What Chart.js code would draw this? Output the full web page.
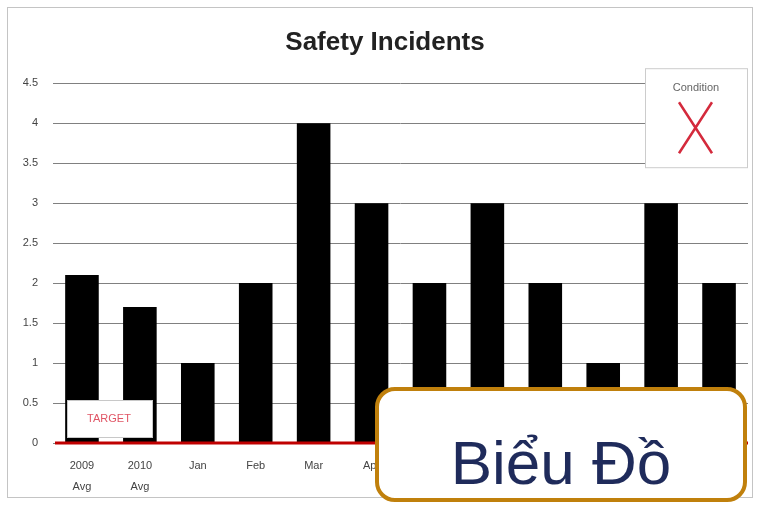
<!DOCTYPE html>
<html>
<head>
<meta charset="utf-8">
<script src="https://cdn.jsdelivr.net/npm/chart.js@4"></script>
<style>
  html, body { margin: 0; padding: 0; background: #fff; }
  #wrap { position: relative; width: 759px; height: 507px; }
  #frame {
    position: absolute; left: 7px; top: 7px; width: 746px; height: 491px;
    border: 1px solid #c4c4c4; box-sizing: border-box; pointer-events: none;
  }
  #badge {
    position: absolute; left: 375px; top: 387px; width: 372px; height: 115px;
    box-sizing: border-box; border: 4px solid #c0800c; border-radius: 20px;
    background: #fff; display: flex; align-items: flex-end; justify-content: center;
    padding-bottom: 4px;
    font-family: "Liberation Sans", Arial, sans-serif; font-size: 62px; line-height: 1;
    color: #1f2b5b;
  }
</style>
</head>
<body>
<div id="wrap">
  <canvas id="chart" width="759" height="507"></canvas>
  <div id="frame"></div>
  <div id="badge">Biểu Đồ</div>
</div>
<script>
const categories = [
  ['2009', 'Avg'], ['2010', 'Avg'], 'Jan', 'Feb', 'Mar', 'Apr',
  'May', 'Jun', 'Jul', 'Aug', 'Sep', 'Oct'
];
const incidents = [2.1, 1.7, 1, 2, 4, 3, 2, 3, 2, 1, 3, 2];
const yTicks = [0, 0.5, 1, 1.5, 2, 2.5, 3, 3.5, 4, 4.5];
const targetValue = 0;

const tickFont = { family: 'Liberation Sans, Arial, sans-serif', size: 11 };

// target line, its label and the condition box
const overlays = {
  id: 'overlays',
  afterDatasetsDraw(chart) {
    const { ctx, chartArea } = chart;
    const y = chart.scales.y.getPixelForValue(targetValue);

    ctx.save();
    ctx.strokeStyle = '#c00000';
    ctx.lineWidth = 3;
    ctx.beginPath();
    ctx.moveTo(chartArea.left + 2, y);
    ctx.lineTo(chartArea.right, y);
    ctx.stroke();

    // TARGET label
    const bx = chartArea.left + 14, by = y - 43;
    ctx.fillStyle = '#fff';
    ctx.fillRect(bx, by, 85, 37);
    ctx.strokeStyle = '#c8c8c8';
    ctx.lineWidth = 1;
    ctx.strokeRect(bx + 0.5, by + 0.5, 85, 37);
    ctx.fillStyle = '#e05565';
    ctx.font = '11px Liberation Sans, Arial, sans-serif';
    ctx.textAlign = 'center';
    ctx.textBaseline = 'middle';
    ctx.fillText('TARGET', bx + 42, by + 19);

    // condition box
    const cx = chartArea.right - 103, cy = chart.scales.y.getPixelForValue(4.5) - 15;
    ctx.fillStyle = '#fff';
    ctx.fillRect(cx, cy, 103, 100);
    ctx.strokeStyle = '#cccccc';
    ctx.strokeRect(cx + 0.5, cy + 0.5, 102, 99);
    ctx.fillStyle = '#666';
    ctx.font = '11px Liberation Sans, Arial, sans-serif';
    ctx.fillText('Condition', cx + 51, cy + 20);
    ctx.strokeStyle = '#d42a3c';
    ctx.lineWidth = 2.5;
    ctx.beginPath();
    ctx.moveTo(cx + 34, cy + 34);
    ctx.lineTo(cx + 67, cy + 85);
    ctx.moveTo(cx + 67, cy + 34);
    ctx.lineTo(cx + 34, cy + 85);
    ctx.stroke();
    ctx.restore();
  }
};

new Chart(document.getElementById('chart'), {
  type: 'bar',
  data: {
    labels: categories,
    datasets: [{
      label: 'Safety Incidents',
      data: incidents,
      backgroundColor: '#000',
      borderWidth: 0,
      categoryPercentage: 1,
      barPercentage: 0.58
    }]
  },
  options: {
    responsive: false,
    animation: false,
    layout: { padding: { top: 8, left: 22, right: 11, bottom: 8 } },
    plugins: {
      legend: { display: false },
      tooltip: { enabled: false },
      title: {
        display: true,
        text: 'Safety Incidents',
        color: '#222',
        font: { family: 'Liberation Sans, Arial, sans-serif', size: 26, weight: 'bold' },
        padding: { top: 19, bottom: 25 }
      }
    },
    scales: {
      x: {
        grid: { display: false, drawTicks: false },
        border: { display: false },
        ticks: {
          color: '#444', font: { ...tickFont, lineHeight: 1.9 },
          padding: 13, maxRotation: 0, autoSkip: false
        },
        afterFit(s) { s.height = 56; }
      },
      y: {
        min: 0, max: 4.5,
        afterBuildTicks(s) { s.ticks = yTicks.map(v => ({ value: v })); },
        grid: { color: '#808080', drawTicks: false },
        border: { display: false },
        ticks: { color: '#444', font: tickFont, padding: 15, callback: v => String(v) },
        afterFit(s) { s.width = 31; }
      }
    }
  },
  plugins: [overlays]
});
</script>
</body>
</html>
